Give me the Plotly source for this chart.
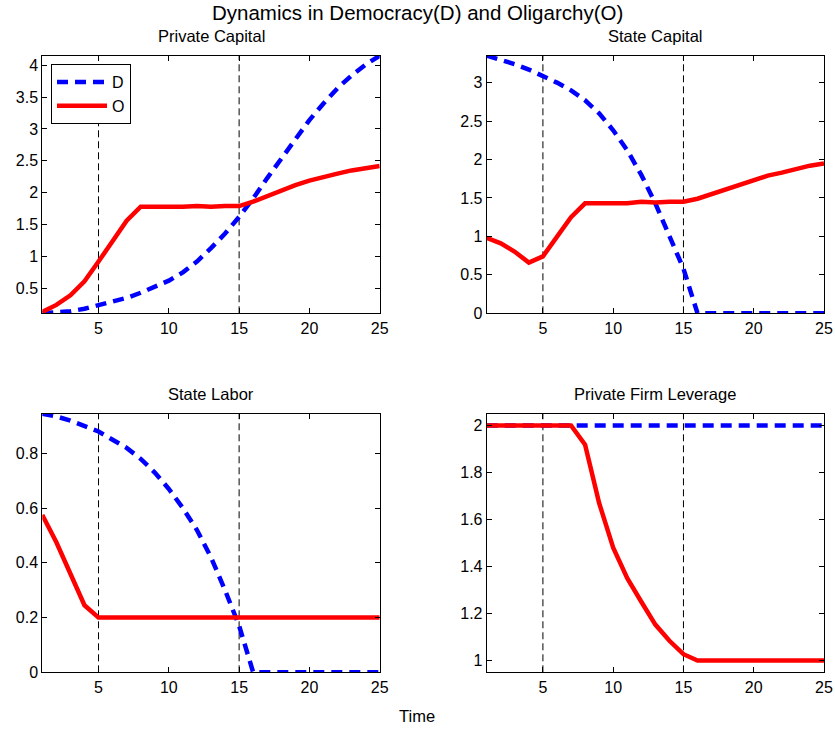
import plotly.graph_objects as go

# ---------------- data ----------------
t = list(range(1, 26))

private_capital_D = [0.108, 0.12, 0.14, 0.18, 0.24, 0.29, 0.35, 0.43, 0.52, 0.62,
                     0.75, 0.92, 1.13, 1.36, 1.62, 1.91, 2.23, 2.54, 2.85, 3.14,
                     3.40, 3.64, 3.84, 4.01, 4.15]
private_capital_O = [0.13, 0.24, 0.39, 0.61, 0.92, 1.23, 1.56, 1.78, 1.78, 1.77,
                     1.78, 1.79, 1.78, 1.79, 1.79, 1.86, 1.95, 2.04, 2.12, 2.19,
                     2.25, 2.30, 2.35, 2.39, 2.42]

state_capital_D = [3.35, 3.30, 3.24, 3.17, 3.09, 3.00, 2.90, 2.77, 2.60, 2.38,
                   2.12, 1.80, 1.43, 1.01, 0.58, 0.0, 0.0, 0.0, 0.0, 0.0,
                   0.0, 0.0, 0.0, 0.0, 0.0]
state_capital_O = [0.98, 0.91, 0.80, 0.66, 0.74, 1.00, 1.25, 1.43, 1.43, 1.43,
                   1.43, 1.45, 1.44, 1.45, 1.45, 1.49, 1.55, 1.62, 1.68, 1.73,
                   1.79, 1.83, 1.88, 1.92, 1.95]

state_labor_D = [0.945, 0.935, 0.92, 0.90, 0.88, 0.85, 0.82, 0.78, 0.73, 0.67,
                 0.60, 0.52, 0.42, 0.30, 0.17, 0.0, 0.0, 0.0, 0.0, 0.0,
                 0.0, 0.0, 0.0, 0.0, 0.0]
state_labor_O = [0.575, 0.475, 0.36, 0.245, 0.20, 0.20, 0.20, 0.20, 0.20, 0.20,
                 0.20, 0.20, 0.20, 0.20, 0.20, 0.20, 0.20, 0.20, 0.20, 0.20,
                 0.20, 0.20, 0.20, 0.20, 0.20]

leverage_D = [2.0] * 25
leverage_O = [2.0, 2.0, 2.0, 2.0, 2.0, 2.0, 2.0, 1.918, 1.67, 1.48,
              1.35, 1.25, 1.153, 1.084, 1.027, 1.0, 1.0, 1.0, 1.0, 1.0,
              1.0, 1.0, 1.0, 1.0, 1.0]

panel_titles = ["Private Capital", "State Capital", "State Labor", "Private Firm Leverage"]
series_D = [private_capital_D, state_capital_D, state_labor_D, leverage_D]
series_O = [private_capital_O, state_capital_O, state_labor_O, leverage_O]
y_ranges = [[0.108, 4.15], [0, 3.35], [0, 0.945], [0.95, 2.05]]
y_ticks = [[0.5, 1, 1.5, 2, 2.5, 3, 3.5, 4],
           [0, 0.5, 1, 1.5, 2, 2.5, 3],
           [0, 0.2, 0.4, 0.6, 0.8],
           [1, 1.2, 1.4, 1.6, 1.8, 2]]
x_ticks = [5, 10, 15, 20, 25]
regime_marks = [5, 15]
main_title = "Dynamics in Democracy(D) and Oligarchy(O)"
x_label = "Time"

# ---------------- layout geometry ----------------
W, H = 835, 730
FONT = "Liberation Sans, Arial, Helvetica, sans-serif"
col_px = [(42.3, 379.7), (486.7, 824.0)]
row_px = [(55.7, 313.3), (413.7, 672.3)]

fig = go.Figure()
layout_axes = {}
shapes = []
annotations = []

for i in range(4):
    r, c = divmod(i, 2)
    n = "" if i == 0 else str(i + 1)
    xa, ya = "x" + n, "y" + n
    fig.add_trace(go.Scatter(x=t, y=series_D[i], mode="lines", name="D",
                             xaxis=xa, yaxis=ya, showlegend=(i == 0),
                             line=dict(color="#0000FF", width=4.5, dash="11px,7px")))
    fig.add_trace(go.Scatter(x=t, y=series_O[i], mode="lines", name="O",
                             xaxis=xa, yaxis=ya, showlegend=(i == 0),
                             line=dict(color="#FF0000", width=4.5)))
    x0, x1 = col_px[c]
    y0, y1 = row_px[r]
    common = dict(showline=True, linecolor="black", linewidth=1, mirror="ticks",
                  ticks="inside", ticklen=5, tickcolor="black", tickwidth=1,
                  showgrid=False, zeroline=False, automargin=False,
                  tickfont=dict(family=FONT, size=16, color="black"))
    layout_axes["xaxis" + n] = dict(domain=[x0 / W, x1 / W], anchor=ya,
                                    range=[1, 25], tickvals=x_ticks, **common)
    layout_axes["yaxis" + n] = dict(domain=[1 - y1 / H, 1 - y0 / H], anchor=xa,
                                    range=y_ranges[i], tickvals=y_ticks[i], **common)
    for m in regime_marks:
        shapes.append(dict(type="line", xref=xa, yref=ya + " domain", x0=m, x1=m,
                           y0=0, y1=1, layer="below",
                           line=dict(color="black", width=1, dash="7px,4px")))
    annotations.append(dict(text=panel_titles[i], xref="paper", yref="paper",
                            x=((x0 + x1) / 2) / W, y=1 - (y0 - 20) / H,
                            xanchor="center", yanchor="middle", showarrow=False,
                            font=dict(family=FONT, size=16.5, color="black")))

annotations.append(dict(text=main_title, xref="paper", yref="paper",
                        x=417 / W, y=1 - 13 / H, xanchor="center", yanchor="middle",
                        showarrow=False, font=dict(family=FONT, size=20.5, color="black")))
annotations.append(dict(text=x_label, xref="paper", yref="paper",
                        x=417 / W, y=1 - 716 / H, xanchor="center", yanchor="middle",
                        showarrow=False, font=dict(family=FONT, size=16.5, color="black")))

fig.update_layout(
    template="none",
    width=W, height=H,
    margin=dict(l=0, r=0, t=0, b=0, autoexpand=False),
    paper_bgcolor="white", plot_bgcolor="white",
    font=dict(family=FONT, color="black"),
    shapes=shapes, annotations=annotations,
    legend=dict(x=51 / W, y=1 - 64 / H, xanchor="left", yanchor="top",
                bgcolor="white", bordercolor="black", borderwidth=1,
                font=dict(family=FONT, size=16, color="black"),
                itemwidth=50, tracegroupgap=0),
    **layout_axes,
)

fig.write_html(
    "out.html",
    config={"displayModeBar": False},
    post_script=("document.documentElement.style.margin='0';"
                 "document.documentElement.style.overflow='hidden';"
                 "document.body.style.margin='0';document.body.style.padding='0';"
                 "document.body.style.overflow='hidden';"),
)
